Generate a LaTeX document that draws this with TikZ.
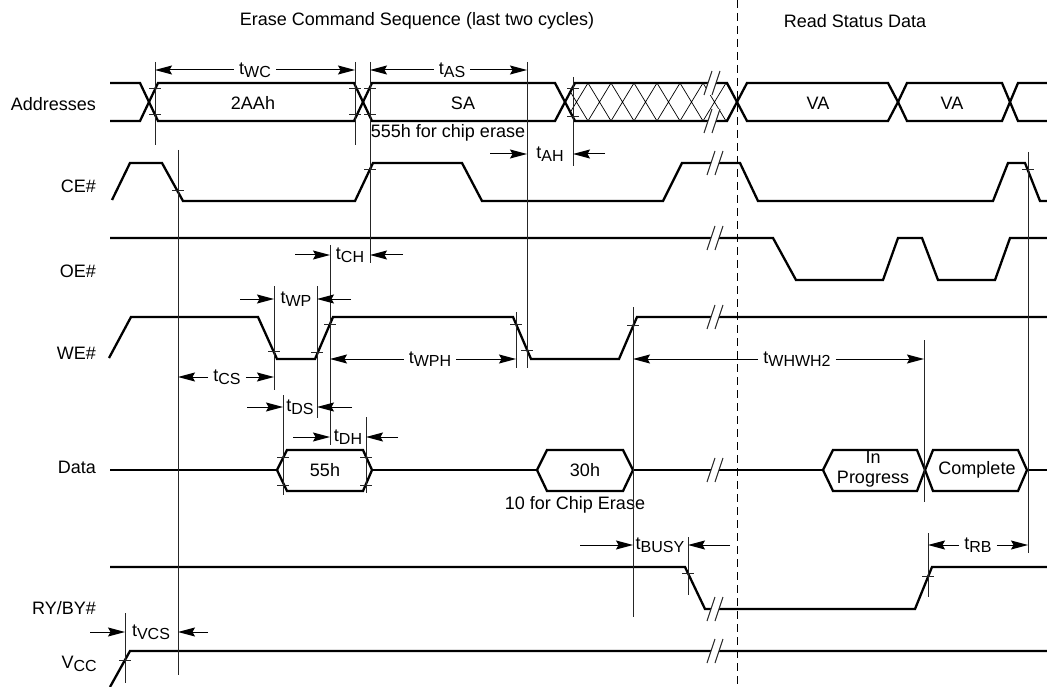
\documentclass[tikz,border=0pt]{standalone}
\usepackage{fontspec}
\setmainfont{Liberation Sans}
\usetikzlibrary{arrows.meta}
\newcommand{\tsub}[2]{#1\raisebox{-3pt}{\fontsize{16}{16}\selectfont #2}}
\newcommand{\brkmark}[2]{%
	\fill[white] (#1-8,#2+12) -- (#1,#2-12) -- (#1+8,#2-12) -- (#1,#2+12) -- cycle;
	\draw[ref] (#1-8,#2+12) -- (#1,#2-12) (#1,#2+12) -- (#1+8,#2-12);}
\begin{document}
\begin{tikzpicture}[x=1pt,y=-1pt,font=\fontsize{18}{19.5}\selectfont,
		sig/.style={line width=2.3pt},
		ref/.style={line width=1pt,black!85},
		dimarrow/.style={line width=1pt,-{Stealth[length=17pt,width=9pt,inset=2.5pt]}},
		dl/.style={inner sep=5pt},
		lab/.style={anchor=east,inner sep=0pt}]
		\useasboundingbox (0,0) rectangle (1047,687);
		%\clip (0,0) rectangle (1047,687);
		\node (erase) at (417,21) {Erase Command Sequence (last two cycles)};
		\node (read) at (855,21) {Read Status Data};
		\node[lab] (addr) at (96,104) {Addresses};
		\node[lab] (ce) at (96,186) {CE\#};
		\node[lab] (oe) at (96,271) {OE\#};
		\node[lab] (we) at (96,353) {WE\#};
		\node[lab] (data) at (96,467) {Data};
		\node[lab] (ry) at (96,608) {RY/BY\#};
		\node[lab] (vcc) at (97,664) {\tsub{V}{CC}};
		% addresses
		\draw[sig] (110,83) -- (140,83) -- (149,102) -- (140,121) -- (110,121);
		\draw[sig] (149,102) -- (158,83) -- (354,83) -- (363,102) -- (354,121) -- (158,121) -- cycle;
		\draw[sig] (363,102) -- (372,83) -- (555,83) -- (565,102) -- (555,121) -- (372,121) -- cycle;
		\begin{scope}
			\clip (565,102) -- (575,83) -- (727,83) -- (737,102) -- (727,121) -- (575,121) -- cycle;
			\foreach \i in {0,...,7}
				\draw[line width=0.7pt] (565+23*\i,83) -- ++(23,38) (565+23*\i,121) -- ++(23,-38);
		\end{scope}
		\draw[sig] (565,102) -- (575,83) -- (727,83) -- (737,102) -- (727,121) -- (575,121) -- cycle;
		\draw[sig] (737,102) -- (747,83) -- (888,83) -- (898,102) -- (888,121) -- (747,121) -- cycle;
		\draw[sig] (898,102) -- (907,83) -- (1002,83) -- (1010,102) -- (1002,121) -- (907,121) -- cycle;
		\draw[sig] (1047,83) -- (1018,83) -- (1010,102) -- (1018,121) -- (1047,121);
		\brkmark{712}{83}
		\brkmark{712}{121}
		\node (aa) at (253,103) {2AAh};
		\node (sa) at (463,103) {SA};
		\node (va1) at (818,103) {VA};
		\node (va2) at (952,103) {VA};
		\node (chip) at (448,133) {555h for chip erase};
		% control lines
		\draw[sig] (112,200) -- (130,163) -- (162,163) -- (183,201) -- (355,201) -- (373,163) -- (462,163)
			-- (482,201) -- (663,201) -- (682,163) -- (740,163) -- (758,201) -- (993,201) -- (1008,163)
			-- (1025,163) -- (1040,201) -- (1047,201);
		\draw[sig] (110,238) -- (773,238) -- (796,280) -- (883,280) -- (898,238) -- (922,238) -- (938,280)
			-- (995,280) -- (1010,238) -- (1047,238);
		\draw[sig] (109,358) -- (131,317) -- (258,317) -- (277,359) -- (315,359) -- (333,317) -- (513,317)
			-- (531,359) -- (619,359) -- (637,317) -- (1047,317);
		\draw[sig] (110,470) -- (277,470) (372,470) -- (537,470) (633,470) -- (823,470) (1027,470) -- (1047,470);
		\draw[sig] (277,470) -- (287,450) -- (363,450) -- (372,470) -- (363,491) -- (287,491) -- cycle;
		\draw[sig] (537,470) -- (547,450) -- (623,450) -- (633,470) -- (623,491) -- (547,491) -- cycle;
		\draw[sig] (823,470) -- (833,450) -- (917,450) -- (925,470) -- (917,491) -- (833,491) -- cycle;
		\draw[sig] (925,470) -- (933,450) -- (1018,450) -- (1027,470) -- (1018,491) -- (933,491) -- cycle;
		\draw[sig] (110,567) -- (685,567) -- (705,609) -- (915,609) -- (932,567) -- (1047,567);
		\draw[sig] (110,687) -- (130,651) -- (1047,651);
		\brkmark{715}{163}
		\brkmark{715}{238}
		\brkmark{715}{317}
		\brkmark{715}{470}
		\brkmark{715}{609}
		\brkmark{715}{651}
		\node (h55) at (325,470) {55h};
		\node (h30) at (585,470) {30h};
		\node (cmd) at (575,505) {10 for Chip Erase};
		\node[align=center,inner sep=0pt] (prog) at (873,469) {In\\Progress};
		\node (compl) at (977,470) {Complete};
		% timing marks
		\draw[dash pattern=on 8pt off 5pt,line width=0.9pt] (737,0) -- (737,687);
		\draw[ref] (155,62) -- (155,145) (355,62) -- (355,145) (370,62) -- (370,263)
			(178,150) -- (178,675) (274,286) -- (274,390) (283,395) -- (283,495)
			(317,286) -- (317,418) (330,245) -- (330,445) (366,417) -- (366,493)
			(516,312) -- (516,368) (527,62) -- (527,368) (573,77) -- (573,166)
			(633,307) -- (633,617) (688,537) -- (688,595) (924,340) -- (924,502)
			(928,533) -- (928,597) (1028,152) -- (1028,553) (125,613) -- (125,683);
		\foreach \x/\y in {155/89,155/115,355/89,355/115,370/89,370/115,573/89,573/117,
				178/191,370/170,1028/170,274/351,317/352,330/324,516/324,527/350,633/325,
				283/457,283/485,366/457,366/485,688/573,928/576,125/660}
			\draw[ref] (\x-6,\y) -- (\x+6,\y);
		\coordinate (wc1) at (155,70);
		\coordinate (wc2) at (355,70);
		\coordinate (as1) at (370,70);
		\coordinate (as2) at (527,70);
		\coordinate (ah1) at (527,154);
		\coordinate (ah2) at (573,154);
		\coordinate (ch1) at (330,255);
		\coordinate (ch2) at (370,255);
		\coordinate (wp1) at (274,299);
		\coordinate (wp2) at (317,299);
		\coordinate (cs1) at (178,377);
		\coordinate (cs2) at (274,377);
		\coordinate (wph1) at (330,359);
		\coordinate (wph2) at (516,359);
		\coordinate (wh1) at (633,359);
		\coordinate (wh2) at (924,359);
		\coordinate (ds1) at (283,407);
		\coordinate (ds2) at (317,407);
		\coordinate (dh1) at (330,437);
		\coordinate (dh2) at (366,437);
		\coordinate (bsy1) at (633,545);
		\coordinate (bsy2) at (688,545);
		\coordinate (rb1) at (928,545);
		\coordinate (rb2) at (1028,545);
		\coordinate (vcs1) at (125,632);
		\coordinate (vcs2) at (178,632);
		\node[dl] (twc) at (255,70) {\tsub{t}{WC}};
		\draw[dimarrow] (twc) -- (wc1);
		\draw[dimarrow] (twc) -- (wc2);
		\node[dl] (tas) at (452,70) {\tsub{t}{AS}};
		\draw[dimarrow] (tas) -- (as1);
		\draw[dimarrow] (tas) -- (as2);
		\node (tah) at (550,154) {\tsub{t}{AH}};
		\draw[dimarrow] ([xshift=-37pt]ah1) -- (ah1);
		\draw[dimarrow] ([xshift=32pt]ah2) -- (ah2);
		\node (tch) at (350,255) {\tsub{t}{CH}};
		\draw[dimarrow] ([xshift=-35pt]ch1) -- (ch1);
		\draw[dimarrow] ([xshift=33pt]ch2) -- (ch2);
		\node (twp) at (296,299) {\tsub{t}{WP}};
		\draw[dimarrow] ([xshift=-34pt]wp1) -- (wp1);
		\draw[dimarrow] ([xshift=34pt]wp2) -- (wp2);
		\node[dl] (tcs) at (227,377) {\tsub{t}{CS}};
		\draw[dimarrow] (tcs) -- (cs1);
		\draw[dimarrow] (tcs) -- (cs2);
		\node[dl] (twph) at (430,359) {\tsub{t}{WPH}};
		\draw[dimarrow] (twph) -- (wph1);
		\draw[dimarrow] (twph) -- (wph2);
		\node[dl] (twhwh) at (797,359) {\tsub{t}{WHWH2}};
		\draw[dimarrow] (twhwh) -- (wh1);
		\draw[dimarrow] (twhwh) -- (wh2);
		\node (tds) at (300,407) {\tsub{t}{DS}};
		\draw[dimarrow] ([xshift=-36pt]ds1) -- (ds1);
		\draw[dimarrow] ([xshift=35pt]ds2) -- (ds2);
		\node (tdh) at (348,437) {\tsub{t}{DH}};
		\draw[dimarrow] ([xshift=-37pt]dh1) -- (dh1);
		\draw[dimarrow] ([xshift=32pt]dh2) -- (dh2);
		\node (tbusy) at (660,545) {\tsub{t}{BUSY}};
		\draw[dimarrow] ([xshift=-53pt]bsy1) -- (bsy1);
		\draw[dimarrow] ([xshift=42pt]bsy2) -- (bsy2);
		\node[dl] (trb) at (978,545) {\tsub{t}{RB}};
		\draw[dimarrow] (trb) -- (rb1);
		\draw[dimarrow] (trb) -- (rb2);
		\node (tvcs) at (151,632) {\tsub{t}{VCS}};
		\draw[dimarrow] ([xshift=-35pt]vcs1) -- (vcs1);
		\draw[dimarrow] ([xshift=30pt]vcs2) -- (vcs2);
	\end{tikzpicture}
\end{document}
